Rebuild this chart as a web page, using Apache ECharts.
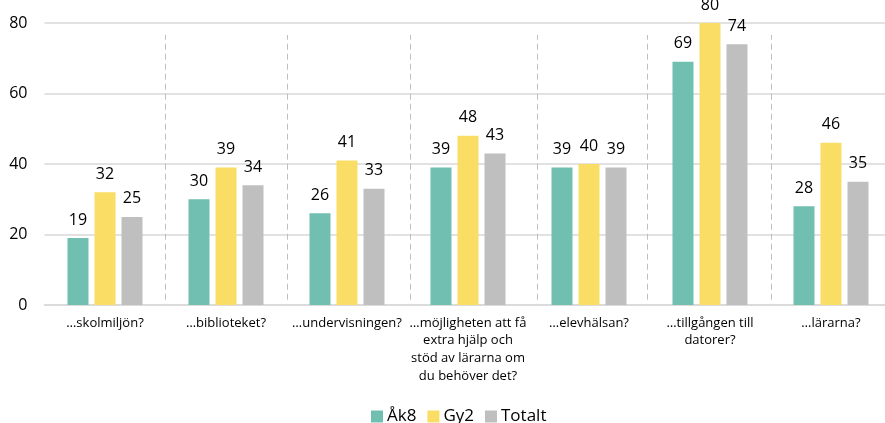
<!DOCTYPE html>
<html><head><meta charset="utf-8">
<script src="https://cdn.jsdelivr.net/npm/echarts@6/dist/echarts.min.js"></script>
<style>html,body{margin:0;padding:0;background:#fff;overflow:hidden;width:885px;height:423px}#c{width:892px;height:423px}</style>
</head><body><div id="c"></div>
<script>
const categories = ['…skolmiljön?', '…biblioteket?', '…undervisningen?', '…möjligheten att få\nextra hjälp och\nstöd av lärarna om\ndu behöver det?', '…elevhälsan?', '…tillgången till\ndatorer?', '…lärarna?'];
const ak8 = [19, 30, 26, 39, 39, 69, 28];
const gy2 = [32, 39, 41, 48, 40, 80, 46];
const totalt = [25, 34, 33, 43, 39, 74, 35];
const yTicks = [0, 20, 40, 60, 80];
const separators = [1, 2.01, 3.02, 4.07, 4.98, 6.01];

const font = 'Open Sans';
const chart = echarts.init(document.getElementById('c'));
const lbl = {show: true, position: 'top', distance: 10, color: '#000', fontSize: 16, fontFamily: font};
chart.setOption({
  animation: false,
  textStyle: {fontFamily: font},
  grid: {left: 44.5, right: 0.5, top: 23, bottom: 118, containLabel: false},
  legend: {
    left: 366, top: 403, itemWidth: 12, itemHeight: 12, itemGap: 11,
    icon: 'rect',
    textStyle: {fontSize: 17, color: '#000', fontFamily: font, padding: [0, 0, 0, -1]},
    data: ['Åk8', 'Gy2', 'Totalt']
  },
  xAxis: [{
    type: 'category', data: categories,
    axisLine: {lineStyle: {color: '#d9d9d9', width: 1.5}},
    axisTick: {show: false},
    axisLabel: {interval: 0, color: '#000', fontSize: 13, lineHeight: 17.7, margin: 9, fontFamily: font}
  }, {
    type: 'value', min: 0, max: 7, show: false
  }],
  yAxis: {
    type: 'value', min: 0, max: 80, interval: 20,
    axisLabel: {color: '#000', fontSize: 16, margin: 17, fontFamily: font,
      formatter: v => yTicks.includes(v) ? String(v) : ''},
    splitLine: {lineStyle: {color: '#d9d9d9', width: 1.5}},
    axisLine: {show: false}, axisTick: {show: false}
  },
  series: [
    {name: 'Åk8', type: 'bar', data: ak8, barWidth: 21, barGap: '28.6%', itemStyle: {color: '#70bfb0'}, label: lbl},
    {name: 'Gy2', type: 'bar', data: gy2, barWidth: 21, barGap: '28.6%', itemStyle: {color: '#fadd65'}, label: lbl},
    {name: 'Totalt', type: 'bar', data: totalt, barWidth: 21, barGap: '28.6%', itemStyle: {color: '#bfbfbf'}, label: lbl},
    {name: 'sep', type: 'line', xAxisIndex: 1, data: [], silent: true,
      markLine: {
        symbol: 'none', silent: true, label: {show: false},
        lineStyle: {color: '#bfbfbf', type: [6, 4], width: 1},
        data: separators.map(s => [{coord: [s, 1.5]}, {coord: [s, 76.6]}])
      }
    }
  ]
});
</script></body></html>
